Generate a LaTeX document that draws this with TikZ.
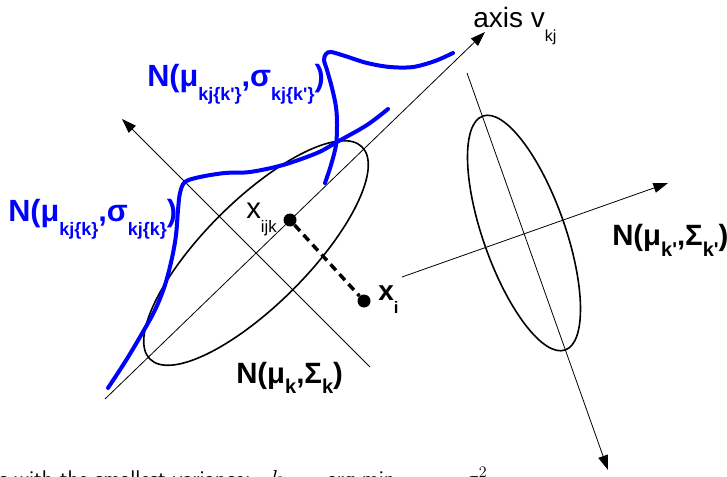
\documentclass[tikz,border=0pt]{standalone}
\usepackage{fontspec}
\newfontfamily\arial{Liberation Sans}
\usetikzlibrary{arrows.meta}
\newcommand\lsub[3]{\raisebox{-#1pt}{\fontsize{#2}{#2}\selectfont #3}}
\begin{document}
\begin{tikzpicture}[x=0.75pt,y=-0.75pt,
  axisline/.style={line width=0.6pt,-{Triangle[length=11pt,width=7.5pt]}},
  ell/.style={line width=1.2pt},
  bluecurve/.style={blue,line width=3pt,line cap=round,line join=round},
  lbl/.style={anchor=base west,inner sep=0pt,font=\arial},
  dot/.style={circle,fill=black,inner sep=0pt,minimum size=9.75pt},
  link/.style={line width=2.6pt,dash pattern=on 6pt off 4pt},
]
\useasboundingbox (0,0) rectangle (727,477);

% axes of the left component
\coordinate (a1s) at (105,399);
\coordinate (a1e) at (485,32);
\coordinate (a2s) at (370,367);
\coordinate (a2e) at (122,119);
\coordinate (c1) at (256,253);
% axes of the right component
\coordinate (b1s) at (467,73);
\coordinate (b1e) at (608,470);
\coordinate (b2s) at (402,277);
\coordinate (b2e) at (668,183);
\coordinate (c2) at (524,233);

\draw[axisline] (a1s) -- (a1e);
\draw[axisline] (a2s) -- (a2e);
\draw[axisline] (b1s) -- (b1e);
\draw[axisline] (b2s) -- (b2e);

\draw[ell, rotate around={45:(c1)}] (c1) ellipse [x radius=150, y radius=52];
\draw[ell, rotate around={109.4:(c2)}] (c2) ellipse [x radius=124, y radius=41];

% blue densities
\draw[bluecurve] plot[smooth, tension=0.55] coordinates {
 (108,388) (125,362) (140,337) (155,310) (165,285) (172,258) (176,235)
 (178,210) (180,193) (185,182) (200,177) (225,173) (250,172) (283,165)
 (317,153) (337,142) (367,125) (388,109)};
\draw[bluecurve] plot[smooth, tension=0.55] coordinates {
 (325,183) (331,165) (336,145) (337,125) (336,107) (332,88) (327,70)
 (324,60) (326,54) (331,52) (345,56) (367,63) (390,67) (413,67)
 (435,61) (453,53)};

% points
\node[dot] (xijk) at (290,220) {};
\node[dot] (xi) at (364,301) {};
\draw[link] (xijk) -- (xi);

% labels
\node[lbl] (laxis) at (473,28) {\fontsize{21}{21}\selectfont axis v\lsub{10}{12}{kj}};
\node[lbl] (lxijk) at (246,219) {\fontsize{22}{22}\selectfont x\lsub{10}{12.5}{ijk}};
\node[lbl] (lxi) at (378,300) {\fontsize{21}{21}\selectfont\bfseries x\lsub{10}{12.5}{i}};
\node[lbl,blue] (ltop) at (147,87) {\fontsize{23}{23}\selectfont\bfseries N(μ\lsub{10}{13.5}{kj\{k'\}},σ\lsub{10}{13.5}{kj\{k'\}})};
\node[lbl,blue] (lleft) at (8,222) {\fontsize{23}{23}\selectfont\bfseries N(μ\lsub{10}{13.5}{kj\{k\}},σ\lsub{10}{13.5}{kj\{k\}})};
\node[lbl] (lNk) at (236,383) {\fontsize{22}{22}\selectfont\bfseries N(μ\lsub{7.5}{15}{k},Σ\lsub{7.5}{15}{k})};
\node[lbl] (lNkp) at (612,245) {\fontsize{22}{22}\selectfont\bfseries N(μ\lsub{8.5}{15}{k'},Σ\lsub{8.5}{15}{k'})};

% bottom text (cut by the page edge, as in the reference)
\node[anchor=base west,inner sep=0pt,font=\sffamily\fontsize{17}{17}\selectfont] (bt1) at (-1,486) {s with the smallest variance:};
\node[anchor=base west,inner sep=0pt,font=\fontsize{17}{17}\selectfont] (bt2) at (270,486) {$k$};
\node[anchor=base west,inner sep=0pt,font=\fontsize{17}{17}\selectfont] (bt3) at (305,486) {$=$};
\node[anchor=base west,inner sep=0pt,font=\sffamily\fontsize{17}{17}\selectfont] (bt4) at (327,486) {arg min};
\node[anchor=base west,inner sep=0pt,font=\fontsize{17}{17}\selectfont] (bt5) at (465,486) {$\sigma^2$};
\end{tikzpicture}
\end{document}
